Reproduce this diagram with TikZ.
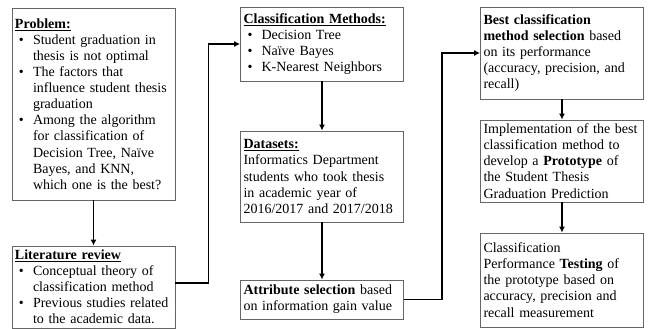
\documentclass[tikz,border=0pt]{standalone}
\usepackage{fontspec}
\setmainfont{Liberation Serif}
\usetikzlibrary{arrows.meta}
\newenvironment{blist}{\begin{list}{\textbullet}{\setlength{\leftmargin}{18pt}\setlength{\labelwidth}{14pt}\setlength{\labelsep}{0pt}\setlength{\topsep}{0pt}\setlength{\partopsep}{0pt}\setlength{\itemsep}{0pt}\setlength{\parsep}{0pt}\renewcommand{\makelabel}[1]{##1\hfil}}}{\end{list}}

\begin{document}
\begin{tikzpicture}[x=1pt,y=-1pt,>/.tip={Latex[length=6pt,width=6pt]},
  box/.style={draw=black!60,line width=0.8pt,align=left,text width=157pt,inner xsep=3pt,inner ysep=1pt,font=\fontsize{14}{16.1}\selectfont},
  flow/.style={->,line width=1.8pt}]
\useasboundingbox (0,0) rectangle (649,329);
\draw (93.5,104) node (prob) [box,minimum height=192pt] {\underline{\textbf{Problem:}}
\begin{blist}
\item Student graduation in\newline thesis is not optimal
\item The factors that\newline influence student thesis\newline graduation
\item Among the algorithm\newline for classification of\newline Decision Tree, Naïve\newline Bayes, and KNN,\newline which one is the best?
\end{blist}};
\draw (93.5,287) node (lit) [box,minimum height=82pt] {\underline{\textbf{Literature review}}
\begin{blist}
\item Conceptual theory of\newline classification method
\item Previous studies related\newline to the academic data.
\end{blist}};
\draw (322,44) node (class) [box,minimum height=74pt] {\underline{\textbf{Classification Methods:}}
\begin{blist}
\item Decision Tree
\item Naïve Bayes
\item K-Nearest Neighbors
\end{blist}};
\draw (322,176.5) node (data) [box,minimum height=91pt] {\underline{\textbf{Datasets:}}\newline Informatics Department\newline students who took thesis\newline in academic year of\newline 2016/2017 and 2017/2018};
\draw (322,299.5) node (attr) [box,minimum height=39pt] {\textbf{Attribute selection} based\newline on information gain value};
\draw (562,53) node (best) [box,minimum height=92pt] {\textbf{Best classification}\newline \textbf{method selection} based\newline on its performance\newline (accuracy, precision, and\newline recall)};
\draw (562,161) node (impl) [box,minimum height=82pt] {Implementation of the best\newline classification method to\newline develop a \textbf{Prototype} of\newline the Student Thesis\newline Graduation Prediction};
\draw (562,280) node (test) [box,minimum height=94pt] {Classification\newline Performance \textbf{Testing} of\newline the prototype based on\newline accuracy, precision and\newline recall measurement};
\draw[flow] (prob) -- (lit);
\draw[flow] ([yshift=4pt]lit.east) -- ++(33,0) |- (class.west);
\draw[flow] (class) -- (data);
\draw[flow] (data) -- (attr);
\draw[flow] (attr.east) -- ++(38,0) |- (best.west);
\draw[flow] (best) -- (impl);
\draw[flow] (impl) -- (test);

\end{tikzpicture}
\end{document}
